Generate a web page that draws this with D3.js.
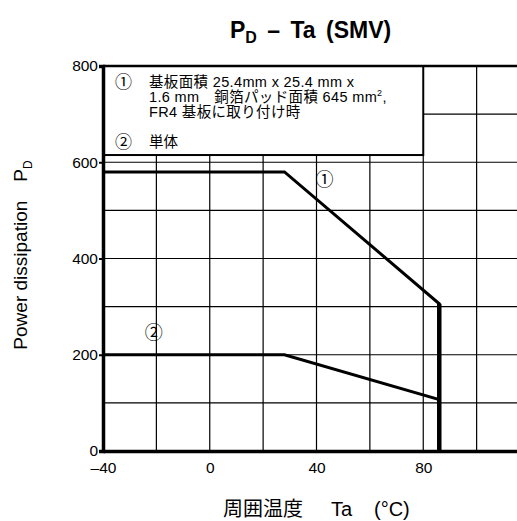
<!DOCTYPE html>
<html>
<head>
<meta charset="utf-8">
<script src="https://cdn.jsdelivr.net/npm/d3@7/dist/d3.min.js"></script>
<style>
  body { margin: 0; background: #fff; }
  text { font-family: "Liberation Sans", Arial, "Noto Sans CJK JP", sans-serif; fill: #000; }
  .circ { font-family: "Noto Sans CJK JP", sans-serif; }
</style>
</head>
<body>
<div id="chart"></div>
<script>
// data
var xTicks = [-40, 0, 40, 80];
var yTicks = [0, 200, 400, 600, 800];
var xGrid = [-20, 0, 20, 40, 60, 80, 100];
var yGrid = [100, 200, 300, 400, 500, 600, 700];
var curve1 = [[-40, 580], [28, 580], [86, 306], [86, 0]];
var curve2 = [[-40, 200], [28, 200], [86, 107], [86, 0]];
var legend1 = ["基板面積 25.4mm x 25.4 mm x", "1.6 mm　銅箔パッド面積 645 mm", "FR4 基板に取り付け時"];
var legend2 = "単体";

var w = 517, h = 521;
var svg = d3.select("#chart").append("svg").attr("width", w).attr("height", h);

var x = d3.scaleLinear().domain([-40, 120]).range([103, 530]);
var y = d3.scaleLinear().domain([0, 800]).range([451, 66]);

// grid
svg.append("g").selectAll("line").data(xGrid).enter().append("line")
  .attr("x1", d => x(d)).attr("x2", d => x(d))
  .attr("y1", y(0)).attr("y2", y(800))
  .attr("stroke", "#000").attr("stroke-width", 1.2);
svg.append("g").selectAll("line").data(yGrid).enter().append("line")
  .attr("x1", x(-40)).attr("x2", x(120))
  .attr("y1", d => y(d)).attr("y2", d => y(d))
  .attr("stroke", "#000").attr("stroke-width", 1.2);

// legend box (covers grid)
svg.append("rect")
  .attr("x", x(-40)).attr("y", y(800))
  .attr("width", x(80) - x(-40)).attr("height", y(615) - y(800))
  .attr("fill", "#fff").attr("stroke", "#000").attr("stroke-width", 2);

// top frame
svg.append("line").attr("x1", x(-40)).attr("x2", x(120)).attr("y1", y(800)).attr("y2", y(800))
  .attr("stroke", "#000").attr("stroke-width", 2.5);

// axes
var xAxis = d3.axisBottom(x).tickValues(xTicks).tickSize(0).tickPadding(11).tickFormat(d => d < 0 ? "\u2013" + Math.abs(d) : d);
var gx = svg.append("g").attr("transform", "translate(0," + y(0) + ")").call(xAxis);
gx.select(".domain").attr("stroke-width", 3.5);
gx.selectAll("text").style("font-size", "15.5px");

var yAxis = d3.axisLeft(y).tickValues(yTicks).tickSize(4).tickPadding(1);
var gy = svg.append("g").attr("transform", "translate(" + x(-40) + ",0)").call(yAxis);
gy.select(".domain").attr("stroke-width", 3.5);
gy.selectAll(".tick line").attr("stroke-width", 2);
gy.selectAll("text").style("font-size", "15.5px");

// curves
var line = d3.line().x(d => x(d[0])).y(d => y(d[1]));
svg.append("path").datum(curve2).attr("d", line)
  .attr("fill", "none").attr("stroke", "#000").attr("stroke-width", 3);
svg.append("path").datum(curve1).attr("d", line)
  .attr("fill", "none").attr("stroke", "#000").attr("stroke-width", 3);
svg.append("line").attr("x1", x(86)).attr("x2", x(86)).attr("y1", y(306)).attr("y2", y(0))
  .attr("stroke", "#000").attr("stroke-width", 4.5);

svg.append("text").attr("class", "circ").attr("x", x(43)).attr("y", y(550)).attr("text-anchor", "middle")
  .style("font-size", "18px").text("①");
svg.append("text").attr("class", "circ").attr("x", x(-21)).attr("y", y(233)).attr("text-anchor", "middle")
  .style("font-size", "18px").text("②");

// legend text
var lg = svg.append("g").style("font-size", "14.5px");
lg.append("text").attr("class", "circ").attr("x", 115).attr("y", 88).style("font-size", "17px").text("①");
legend1.forEach(function (t, i) {
  var tx = lg.append("text").attr("x", 149).attr("y", 87 + i * 15)
    .style("letter-spacing", "0.35px").text(t);
  if (i === 1) {
    tx.append("tspan").attr("dy", -6).style("font-size", "9px").text("2");
    tx.append("tspan").attr("dy", 6).text(",");
  }
});
lg.append("text").attr("class", "circ").attr("x", 115).attr("y", 148).style("font-size", "17px").text("②");
lg.append("text").attr("x", 149).attr("y", 147).text(legend2);

// title
var title = svg.append("text").attr("x", 230).attr("y", 38)
  .style("font-size", "23px").style("font-weight", "bold").style("word-spacing", "4px");
title.append("tspan").text("P");
title.append("tspan").attr("dy", 5).style("font-size", "16px").text("D");
title.append("tspan").attr("dy", -5).text(" \u2013 Ta (SMV)");

// axis labels
var yl = svg.append("text").attr("transform", "translate(27,255) rotate(-90)")
  .attr("text-anchor", "middle").style("font-size", "19px");
yl.append("tspan").text("Power dissipation\u2003P");
yl.append("tspan").attr("dy", 5).style("font-size", "12px").text("D");

var xl = svg.append("text").attr("y", 516).style("font-size", "20px");
xl.append("tspan").attr("x", 223).text("周囲温度");
xl.append("tspan").attr("x", 331).text("Ta");
xl.append("tspan").attr("x", 374).text("(°C)");
</script>
</body>
</html>
